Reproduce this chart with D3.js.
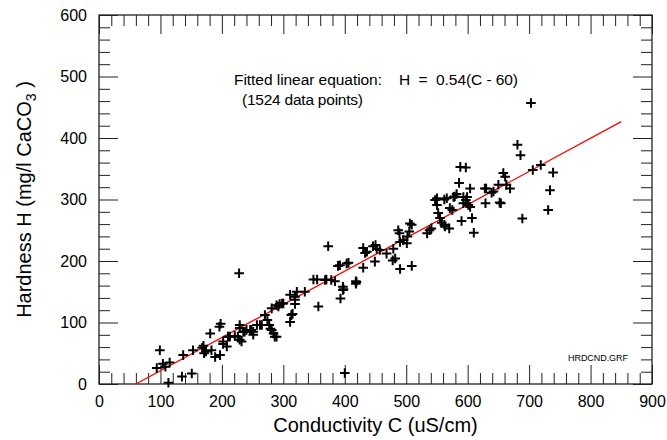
<!DOCTYPE html>
<html>
<head>
<script src="https://d3js.org/d3.v7.min.js"></script>
<style>
  body { margin: 0; background: #fff; }
  svg text { font-family: "Liberation Sans", Arial, sans-serif; fill: #000; }
</style>
</head>
<body>
<svg id="chart" width="667" height="440"></svg>
<script>
// conductivity C (uS/cm) and hardness H (mg/l CaCO3)
const conductivity = [94,99,104,115,113,108,137,135,151,153,168,174,171,170,181,183,189,197,196,198,
  202,208,213,221,228,229,229,226,232,237,246,251,251,262,270,274,277,279,281,284,286,289,281,289,294,
  300,311,313,311,319,319,319,322,335,349,355,357,373,370,378,384,389,393,397,403,400,418,418,430,433,
  430,446,450,449,436,452,457,468,479,482,478,487,489,490,495,490,501,505,509,509,534,538,550,552,555,
  558,562,570,575,590,593,607,610,604,629,654,689,731,703,681,686,719,706,739,734,588,597,586,604,630,
  639,650,658,661,663,669,547,562,577,582,593,597,550,566,579,571,599,601,628,642,652,406,392,506,502,
  541,563,368,397,419,398,315,298,292,265,257,248,240,235,229,210,202];
const hardness = [26,55,33,35,2,28,47,12,17,55,59,53,50,62,82,55,44,47,93,98,
  69,61,77,78,180,96,91,77,69,85,88,85,80,96,112,104,96,90,88,82,77,77,123,128,130,
  131,145,112,101,142,137,130,150,150,170,170,126,224,170,169,167,192,139,153,196,18,167,163,221,213,
  189,224,226,199,215,220,218,212,220,204,201,250,245,231,234,187,229,248,259,192,245,250,291,278,270,
  262,259,253,283,265,294,270,246,288,294,294,269,283,457,389,372,356,348,344,315,353,352,327,318,318,
  311,324,343,337,324,318,299,300,304,309,304,299,302,302,305,286,304,291,318,313,295,197,193,261,240,
  253,256,169,158,166,154,114,131,126,96,96,88,88,85,72,77,65];

const fitSlope = 0.54, fitOffset = 60, fitEnd = 850;
const xMajor = d3.range(0, 901, 100);
const yMajor = d3.range(0, 601, 100);
const xMinor = d3.range(0, 901, 20).filter(v => v % 100 !== 0);
const yMinor = d3.range(0, 601, 20).filter(v => v % 100 !== 0);

const svg = d3.select("#chart");
const plotL = 99, plotR = 652, plotT = 15, plotB = 384;

const x = d3.scaleLinear().domain([0, 900]).range([plotL, plotR]);
const y = d3.scaleLinear().domain([0, 600]).range([plotB, plotT]);

function drawAxis(axisFn, pos, values, size, labels) {
    const g = svg.append("g")
        .attr("transform", pos)
        .call(axisFn.tickValues(values).tickSizeInner(-size).tickSizeOuter(0)
            .tickPadding(labels ? 12 : 0)
            .tickFormat(labels ? d3.format("d") : ""));
    g.select(".domain").remove();
    g.selectAll("line").attr("stroke", "#222");
    g.selectAll("text").style("font-size", "16px").attr("fill", "#000");
    return g;
}

drawAxis(d3.axisBottom(x), `translate(0,${plotB})`, xMajor, 19, true);
drawAxis(d3.axisBottom(x), `translate(0,${plotB})`, xMinor, 11, false);
drawAxis(d3.axisTop(x), `translate(0,${plotT})`, xMajor, 19, false);
drawAxis(d3.axisTop(x), `translate(0,${plotT})`, xMinor, 11, false);
drawAxis(d3.axisLeft(y), `translate(${plotL},0)`, yMajor, 19, true);
drawAxis(d3.axisLeft(y), `translate(${plotL},0)`, yMinor, 11, false);
drawAxis(d3.axisRight(y), `translate(${plotR},0)`, yMajor, 19, false);
drawAxis(d3.axisRight(y), `translate(${plotR},0)`, yMinor, 11, false);

svg.append("rect")
    .attr("x", plotL).attr("y", plotT)
    .attr("width", plotR - plotL).attr("height", plotB - plotT)
    .attr("fill", "none").attr("stroke", "#222").attr("stroke-width", 1.3);

// fitted line
svg.append("line")
    .attr("x1", x(fitOffset)).attr("y1", y(0))
    .attr("x2", x(fitEnd)).attr("y2", y(fitSlope * (fitEnd - fitOffset)))
    .attr("stroke", "#ff0000").attr("stroke-width", 1.3);

// data crosses
const pts = conductivity.map((c, i) => ({ c: c, h: hardness[i] }));
const arm = 4.8;
svg.append("g").selectAll("path")
    .data(pts)
    .enter()
    .append("path")
    .attr("d", d => `M${x(d.c) - arm},${y(d.h)}h${arm * 2}M${x(d.c)},${y(d.h) - arm}v${arm * 2}`)
    .attr("stroke", "#000").attr("stroke-width", 2).attr("fill", "none");

// annotations
function note(tx, ty, str, len, size) {
    svg.append("text")
        .attr("x", tx).attr("y", ty)
        .attr("textLength", len).attr("lengthAdjust", "spacing")
        .style("font-size", size + "px").style("white-space", "pre")
        .text(str);
}
note(234, 85, "Fitted linear equation:", 148, 15.5);
note(399, 85, "H  =  0.54(C - 60)", 119, 15.5);
note(242, 105, "(1524 data points)", 121, 15.5);
note(568, 361, "HRDCND.GRF", 60, 9);

// axis titles
svg.append("text")
    .attr("x", (plotL + plotR) / 2).attr("y", 432)
    .attr("text-anchor", "middle")
    .style("font-size", "20px")
    .text("Conductivity C (uS/cm)");

const yt = svg.append("text")
    .attr("transform", `translate(31,${(plotT + plotB) / 2}) rotate(-90)`)
    .attr("text-anchor", "middle")
    .style("font-size", "20px");
yt.append("tspan").text("Hardness H (mg/l CaCO");
yt.append("tspan").attr("dy", 5).style("font-size", "14px").text("3");
yt.append("tspan").attr("dy", -5).text(" )");
</script>
</body>
</html>
